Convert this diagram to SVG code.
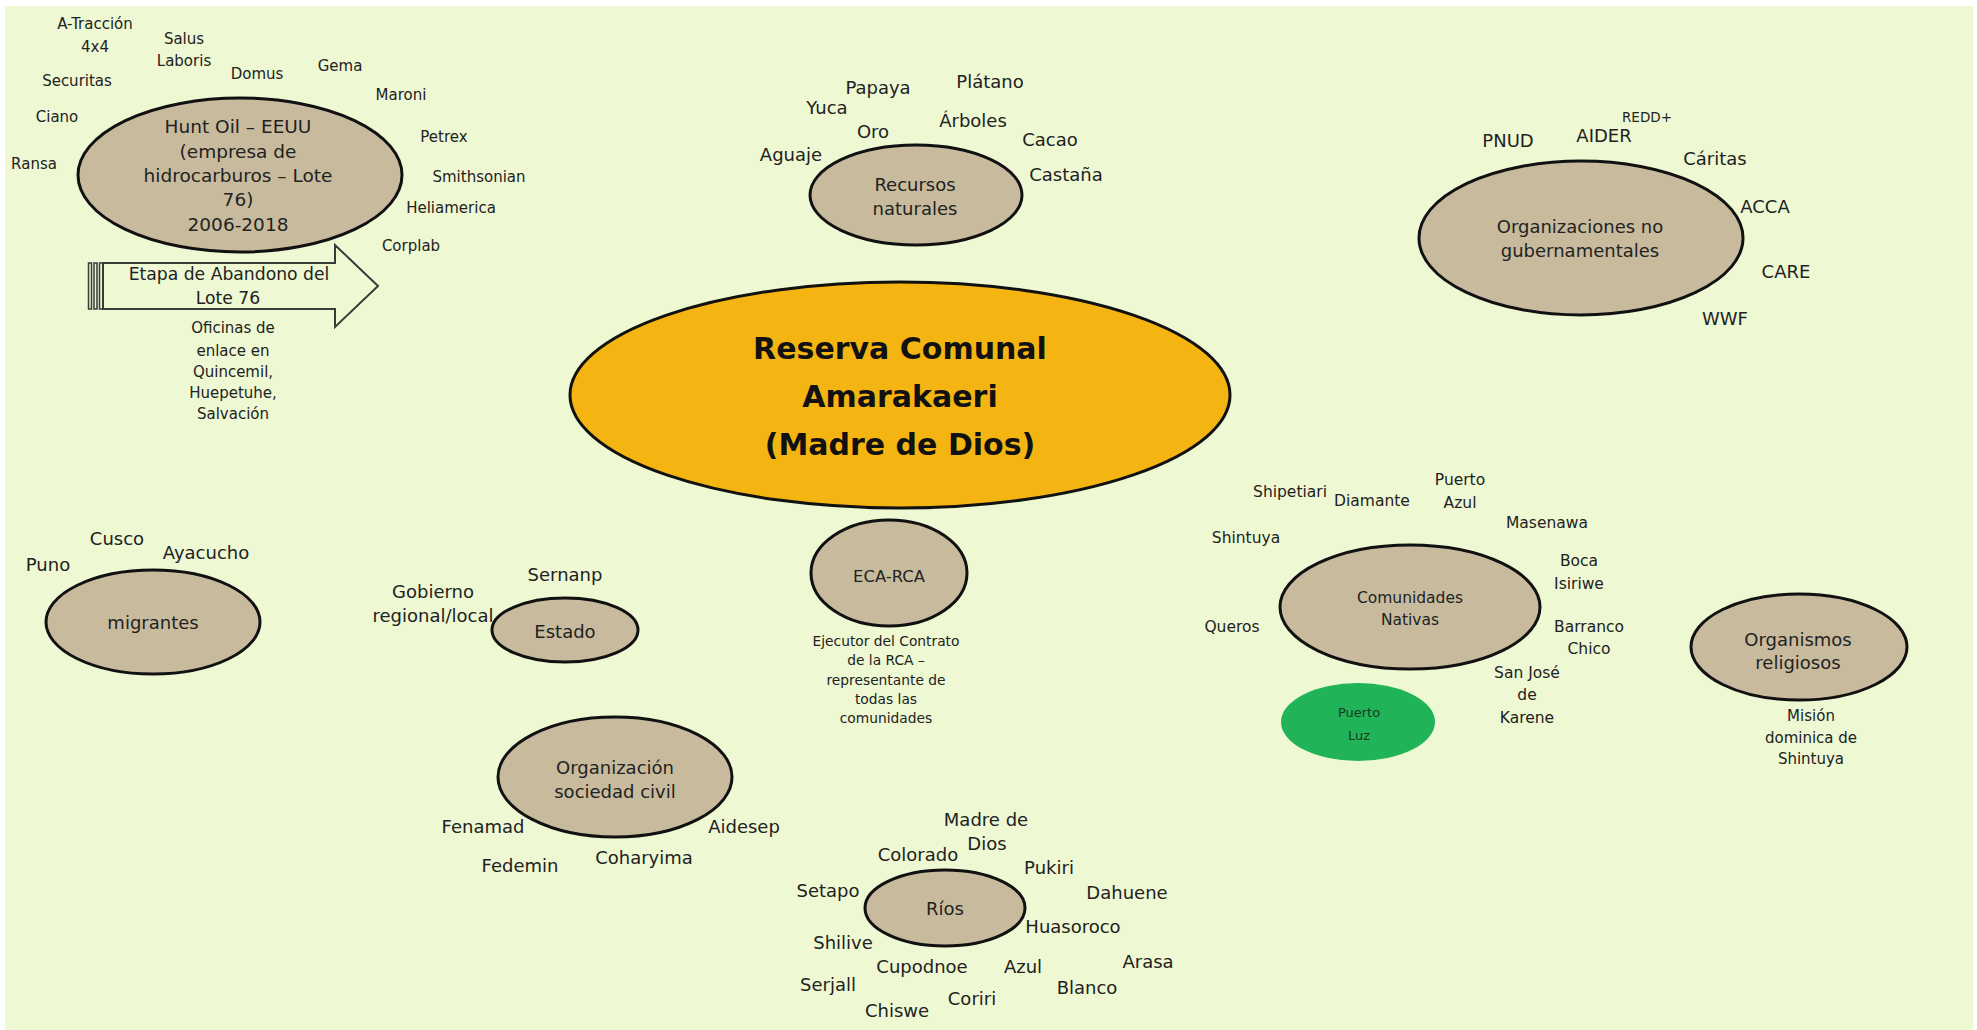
<svg xmlns="http://www.w3.org/2000/svg" width="1977" height="1030" viewBox="0 0 1977 1030">
<style>
text{font-family:"DejaVu Sans","Liberation Sans",sans-serif;fill:#222;text-anchor:middle;dominant-baseline:central}
.n{fill:#C8BB9D;stroke:#111;stroke-width:3}
.l{font-size:18px}
.h{font-size:15px}
.hi{font-size:18.5px}
.s{font-size:13.8px}
.c{font-size:15.5px}
.title{font-size:30px;font-weight:bold;fill:#111}
</style>
<rect x="0" y="0" width="1977" height="1030" fill="#ffffff"/>
<rect x="5" y="6" width="1968" height="1024" fill="#EEF8D2"/>
<g id="connectors"></g>

<g id="reserva">
<ellipse cx="900" cy="395" rx="330" ry="113" fill="#F4B512" stroke="#111" stroke-width="3"/>
<text class="title" x="900" y="348">Reserva Comunal</text>
<text class="title" x="900" y="396">Amarakaeri</text>
<text class="title" x="900" y="444">(Madre de Dios)</text>
</g>

<g id="huntoil">
<ellipse class="n" cx="240" cy="175" rx="162" ry="77"/>
<text class="hi" x="238" y="126">Hunt Oil – EEUU</text>
<text class="hi" x="238" y="151">(empresa de</text>
<text class="hi" x="238" y="175">hidrocarburos – Lote</text>
<text class="hi" x="238" y="199">76)</text>
<text class="hi" x="238" y="224">2006-2018</text>
<text class="h" x="95" y="24">A-Tracción</text>
<text class="h" x="95" y="47">4x4</text>
<text class="h" x="184" y="39">Salus</text>
<text class="h" x="184" y="61">Laboris</text>
<text class="h" x="77" y="81">Securitas</text>
<text class="h" x="257" y="74">Domus</text>
<text class="h" x="340" y="66">Gema</text>
<text class="h" x="401" y="95">Maroni</text>
<text class="h" x="57" y="117">Ciano</text>
<text class="h" x="444" y="137">Petrex</text>
<text class="h" x="34" y="164">Ransa</text>
<text class="h" x="479" y="177">Smithsonian</text>
<text class="h" x="451" y="208">Heliamerica</text>
<text class="h" x="411" y="246">Corplab</text>
</g>

<g id="abandono">
<path d="M103,263 L335,263 L335,245 L378,286 L335,327 L335,309 L103,309 Z" fill="none" stroke="#3a3a3a" stroke-width="2"/>
<rect x="88.5" y="263" width="3" height="46" fill="none" stroke="#3a3a3a" stroke-width="1.5"/>
<rect x="94" y="263" width="3" height="46" fill="none" stroke="#3a3a3a" stroke-width="1.5"/>
<rect x="99.5" y="263" width="3.5" height="46" fill="none" stroke="#3a3a3a" stroke-width="1.5"/>
<text style="font-size:17.2px" x="229" y="274">Etapa de Abandono del</text>
<text style="font-size:17.2px" x="228" y="298">Lote 76</text>
<text class="h" x="233" y="328">Oficinas de</text>
<text class="h" x="233" y="351">enlace en</text>
<text class="h" x="233" y="372">Quincemil,</text>
<text class="h" x="233" y="393">Huepetuhe,</text>
<text class="h" x="233" y="414">Salvación</text>
</g>

<g id="recursos">
<ellipse class="n" cx="916" cy="195" rx="106" ry="50"/>
<text class="l" x="915" y="184">Recursos</text>
<text class="l" x="915" y="208">naturales</text>
<text class="l" x="878" y="87">Papaya</text>
<text class="l" x="990" y="81">Plátano</text>
<text class="l" x="827" y="107">Yuca</text>
<text class="l" x="973" y="120">Árboles</text>
<text class="l" x="873" y="131">Oro</text>
<text class="l" x="1050" y="139">Cacao</text>
<text class="l" x="791" y="154">Aguaje</text>
<text class="l" x="1066" y="174">Castaña</text>
</g>

<g id="ong">
<ellipse class="n" cx="1581" cy="238" rx="162" ry="77"/>
<text class="l" x="1580" y="226">Organizaciones no</text>
<text class="l" x="1580" y="250">gubernamentales</text>
<text class="l" x="1508" y="140">PNUD</text>
<text class="l" x="1604" y="135">AIDER</text>
<text style="font-size:13.5px" x="1647" y="117">REDD+</text>
<text class="l" x="1715" y="158">Cáritas</text>
<text class="l" x="1765" y="206">ACCA</text>
<text class="l" x="1786" y="271">CARE</text>
<text class="l" x="1725" y="318">WWF</text>
</g>

<g id="eca">
<ellipse class="n" cx="889" cy="573" rx="78" ry="53"/>
<text style="font-size:16.4px" x="889" y="576">ECA-RCA</text>
<text class="s" x="886" y="641">Ejecutor del Contrato</text>
<text class="s" x="886" y="660">de la RCA –</text>
<text class="s" x="886" y="680">representante de</text>
<text class="s" x="886" y="699">todas las</text>
<text class="s" x="886" y="718">comunidades</text>
</g>

<g id="migrantes">
<ellipse class="n" cx="153" cy="622" rx="107" ry="52"/>
<text class="l" x="153" y="622">migrantes</text>
<text class="l" x="48" y="564">Puno</text>
<text class="l" x="117" y="538">Cusco</text>
<text class="l" x="206" y="552">Ayacucho</text>
</g>

<g id="estado">
<ellipse class="n" cx="565" cy="630" rx="73" ry="32"/>
<text class="l" x="565" y="631">Estado</text>
<text class="l" x="565" y="574">Sernanp</text>
<text class="l" x="433" y="591">Gobierno</text>
<text class="l" x="433" y="615">regional/local</text>
</g>

<g id="sociedad">
<ellipse class="n" cx="615" cy="777" rx="117" ry="60"/>
<text class="l" x="615" y="767">Organización</text>
<text class="l" x="615" y="791">sociedad civil</text>
<text class="l" x="483" y="826">Fenamad</text>
<text class="l" x="744" y="826">Aidesep</text>
<text class="l" x="520" y="865">Fedemin</text>
<text class="l" x="644" y="857">Coharyima</text>
</g>

<g id="rios">
<ellipse class="n" cx="945" cy="908" rx="80" ry="38"/>
<text class="l" x="945" y="908">Ríos</text>
<text class="l" x="986" y="819">Madre de</text>
<text class="l" x="987" y="843">Dios</text>
<text class="l" x="918" y="854">Colorado</text>
<text class="l" x="1049" y="867">Pukiri</text>
<text class="l" x="828" y="890">Setapo</text>
<text class="l" x="1127" y="892">Dahuene</text>
<text class="l" x="1073" y="926">Huasoroco</text>
<text class="l" x="843" y="942">Shilive</text>
<text class="l" x="922" y="966">Cupodnoe</text>
<text class="l" x="1023" y="966">Azul</text>
<text class="l" x="1148" y="961">Arasa</text>
<text class="l" x="828" y="984">Serjall</text>
<text class="l" x="1087" y="987">Blanco</text>
<text class="l" x="972" y="998">Coriri</text>
<text class="l" x="897" y="1010">Chiswe</text>
</g>

<g id="comunidades">
<ellipse class="n" cx="1410" cy="607" rx="130" ry="62"/>
<text class="c" x="1410" y="598">Comunidades</text>
<text class="c" x="1410" y="620">Nativas</text>
<text class="c" x="1290" y="492">Shipetiari</text>
<text class="c" x="1372" y="501">Diamante</text>
<text class="c" x="1460" y="480">Puerto</text>
<text class="c" x="1460" y="503">Azul</text>
<text class="c" x="1547" y="523">Masenawa</text>
<text class="c" x="1246" y="538">Shintuya</text>
<text class="c" x="1579" y="561">Boca</text>
<text class="c" x="1579" y="584">Isiriwe</text>
<text class="c" x="1232" y="627">Queros</text>
<text class="c" x="1589" y="627">Barranco</text>
<text class="c" x="1589" y="649">Chico</text>
<text class="c" x="1527" y="673">San José</text>
<text class="c" x="1527" y="695">de</text>
<text class="c" x="1527" y="718">Karene</text>
</g>

<g id="puertoluz">
<ellipse cx="1358" cy="722" rx="77" ry="39" fill="#21B358"/>
<text style="font-size:13px;fill:#1a3a22" x="1359" y="712">Puerto</text>
<text style="font-size:13px;fill:#1a3a22" x="1359" y="735">Luz</text>
</g>

<g id="religiosos">
<ellipse class="n" cx="1799" cy="647" rx="108" ry="53"/>
<text class="l" x="1798" y="639">Organismos</text>
<text class="l" x="1798" y="662">religiosos</text>
<text class="h" x="1811" y="716">Misión</text>
<text class="h" x="1811" y="738">dominica de</text>
<text class="h" x="1811" y="759">Shintuya</text>
</g>
</svg>
